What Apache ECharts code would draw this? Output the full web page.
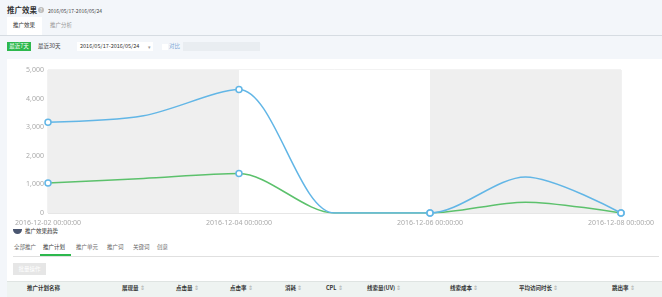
<!DOCTYPE html>
<html>
<head>
<meta charset="utf-8">
<script src="https://cdn.jsdelivr.net/npm/echarts@6/dist/echarts.min.js"></script>
<style>
  html, body { margin: 0; padding: 0; }
  body {
    width: 662px; height: 297px; overflow: hidden; position: relative;
    background: #f3f6fa;
    font-family: "Noto Sans CJK SC", "Noto Sans", sans-serif;
  }
  .abs { position: absolute; white-space: nowrap; }
  .t { line-height: 1; }
</style>
</head>
<body>
  <!-- header -->
  <div class="abs t" style="left:7px;top:6px;font-size:7.5px;font-weight:bold;color:#333;">推广效果</div>
  <div class="abs" style="left:38px;top:7px;width:6px;height:6px;border-radius:50%;background:#bbb;color:#fff;font-size:5px;line-height:6px;text-align:center;">?</div>
  <div class="abs t" style="left:48px;top:8px;font-size:5px;color:#444;">2016/05/17-2016/05/24</div>
  <div class="abs" style="left:7px;top:17px;width:35px;height:18px;background:#fff;"></div>
  <div class="abs t" style="left:13px;top:23px;font-size:5.5px;color:#333;">推广效果</div>
  <div class="abs t" style="left:50px;top:23px;font-size:5.5px;color:#999;">推广分析</div>
  <div class="abs" style="left:0;top:35px;width:662px;height:1px;background:#d6dce2;"></div>

  <!-- filter row -->
  <div class="abs t" style="left:7px;top:42px;width:24px;height:9px;background:#2db84d;color:#fff;font-size:5.5px;line-height:9px;text-align:center;">最近7天</div>
  <div class="abs t" style="left:38px;top:44px;font-size:5.5px;color:#444;">最近30天</div>
  <div class="abs" style="left:77px;top:42px;width:76px;height:9px;background:#fff;"></div>
  <div class="abs t" style="left:80px;top:44px;font-size:5.5px;color:#333;">2016/05/17-2016/05/24</div>
  <div class="abs t" style="left:148px;top:44px;font-size:5px;color:#999;">▾</div>
  <div class="abs" style="left:162px;top:44px;width:6px;height:6px;background:#fff;"></div>
  <div class="abs t" style="left:169px;top:44px;font-size:5.5px;color:#7aa7d6;">对比</div>
  <div class="abs" style="left:183px;top:42px;width:77px;height:9px;background:#e9edf1;"></div>

  <!-- card -->
  <div class="abs" style="left:7px;top:59px;width:655px;height:238px;background:#fff;"></div>

  <!-- legend row -->
  <div class="abs" style="left:13px;top:229px;width:9px;height:5px;border-radius:0 0 5px 5px;background:#4a5670;"></div>
  <div class="abs t" style="left:25px;top:229px;font-size:5.5px;color:#333;">推广效果趋势</div>

  <!-- tabs -->
  <div class="abs t" style="left:14px;top:245px;font-size:5.5px;color:#666;">全部推广</div>
  <div class="abs t" style="left:43px;top:245px;font-size:5.5px;color:#333;">推广计划</div>
  <div class="abs t" style="left:76px;top:245px;font-size:5.5px;color:#666;">推广单元</div>
  <div class="abs t" style="left:107px;top:245px;font-size:5.5px;color:#666;">推广词</div>
  <div class="abs t" style="left:133px;top:245px;font-size:5.5px;color:#666;">关键词</div>
  <div class="abs t" style="left:157px;top:245px;font-size:5.5px;color:#666;">创意</div>
  <div class="abs" style="left:13px;top:256px;width:646px;height:1px;background:#e0e0e0;"></div>
  <div class="abs" style="left:40px;top:254px;width:31px;height:2px;background:#2db84d;"></div>

  <!-- button -->
  <div class="abs t" style="left:13px;top:263px;width:33px;height:12px;background:#e6e6e6;color:#fff;font-size:5.5px;line-height:12px;text-align:center;">批量操作</div>

  <!-- table header -->
  <div class="abs" style="left:7px;top:281px;width:655px;height:16px;background:#eef3f1;border-top:1px solid #dfe4e2;"></div>
  <div id="thead"></div>

  <div id="chart" class="abs" style="left:0;top:0;width:662px;height:297px;"></div>

<script>
// data
const dates = ['2016-12-02 00:00:00', '2016-12-03 00:00:00', '2016-12-04 00:00:00',
  '2016-12-05 00:00:00', '2016-12-06 00:00:00', '2016-12-07 00:00:00', '2016-12-08 00:00:00']
const blueValues = [3170, 3400, 4320, 0, 0, 1260, 0]
const greenValues = [1050, 1210, 1380, 0, 0, 380, 0]

const headers = [
  ['推广计划名称', 27, false], ['展现量', 122, true], ['点击量', 176, true], ['点击率', 230, true],
  ['消耗', 285, true], ['CPL', 326, true], ['线索量(UV)', 367, true], ['线索成本', 450, true],
  ['平均访问时长', 519, true], ['跳出率', 612, true]
]

let html = ''
headers.forEach(function (h) {
  html += '<div class="abs t" style="left:' + h[1] + 'px;top:286px;font-size:5.5px;font-weight:bold;color:#333;">' +
    h[0] + (h[2] ? ' <span style="color:#aaa;font-weight:normal;">⇕</span>' : '') + '</div>'
})
document.getElementById('thead').innerHTML = html

const chart = echarts.init(document.getElementById('chart'), null, { renderer: 'canvas' })

// circles only on the labelled days
const symbolSize = function (val, params) {
  return params.dataIndex % 2 ? 0 : 6
}

chart.setOption({
  animation: false,
  backgroundColor: 'transparent',
  textStyle: { fontFamily: 'Noto Sans, sans-serif' },
  grid: {
    left: 48, right: 41, top: 70, bottom: 84,
    show: true, borderColor: '#e4e4e4', borderWidth: 1
  },
  xAxis: {
    type: 'category',
    data: dates,
    boundaryGap: false,
    axisLine: { show: false },
    axisTick: { show: false },
    axisLabel: { interval: 1, color: '#aaa', fontSize: 7, margin: 6 },
    splitLine: { show: false },
    splitArea: { show: true, interval: 1, areaStyle: { color: ['#efefef', '#ffffff'] } }
  },
  yAxis: {
    type: 'value',
    min: 0, max: 5000, interval: 1000,
    axisLine: { show: false },
    axisTick: { show: false },
    axisLabel: {
      color: '#aaa', fontSize: 7, margin: 4,
      formatter: function (v) { return v.toLocaleString('en-US') }
    },
    splitLine: { lineStyle: { color: '#e6e6e6' } }
  },
  series: [
    {
      type: 'line',
      data: greenValues,
      smooth: 0.3,
      symbol: 'circle',
      symbolSize: symbolSize,
      lineStyle: { color: '#5cc16c', width: 1.5 },
      itemStyle: { color: '#fff', borderColor: '#62b6e6', borderWidth: 1.5 }
    },
    {
      type: 'line',
      data: blueValues,
      smooth: 0.3,
      symbol: 'circle',
      symbolSize: symbolSize,
      lineStyle: { color: '#62b6e6', width: 1.5 },
      itemStyle: { color: '#fff', borderColor: '#62b6e6', borderWidth: 1.5 }
    }
  ]
})
</script>
</body>
</html>
